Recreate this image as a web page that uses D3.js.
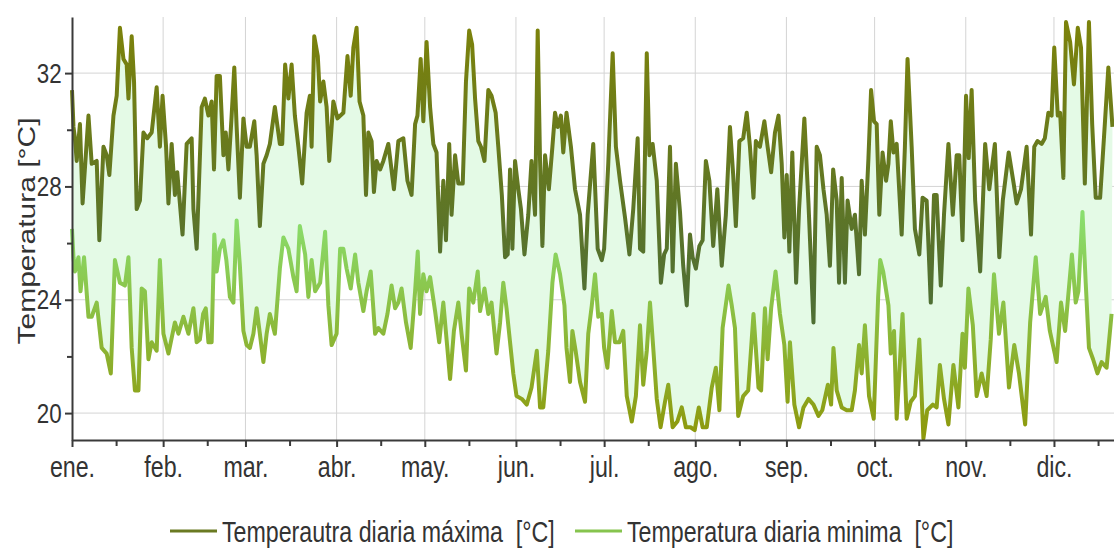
<html>
<head>
    <style>
        body { margin: 0; background: #fff; }
        svg text { font-family: "Liberation Sans", Arial, sans-serif; fill: #333; }
        .legend text { white-space: pre; }
        .grid line { stroke: #d4d4d4; stroke-width: 1; }
        .axis path, .axis line { stroke: #3a3a3a; stroke-width: 2; }
    </style>
    <script src="https://d3js.org/d3.v7.min.js"></script>
</head>
<body>
    <svg width="1114" height="550"></svg>
    <script>

        // [day of year, temperature °C]
        var maxDaily = [[0,31.4],[0.5,30.1],[1.0,29.7],[1.6,28.9],[2.7,30.2],[3.6,27.4],[5.6,30.5],[6.7,28.8],[8.4,28.9],[9.3,26.1],[10.7,29.4],[11.8,29.1],[12.7,28.4],[14.1,30.5],[15.2,31.2],[16.3,33.6],[17.5,32.5],[18.6,32.3],[19.2,31.1],[20.3,33.3],[21.1,31.7],[22.0,27.2],[23.1,27.5],[24.3,29.9],[25.6,29.7],[27.1,29.9],[28.8,31.5],[29.9,29.4],[30.8,31.2],[32.0,29.4],[32.8,27.4],[33.9,29.5],[35.0,27.7],[35.8,28.5],[37.6,26.3],[39.0,29.5],[40.7,29.7],[41.3,27.2],[42.4,25.8],[44.1,30.8],[45.2,31.1],[46.4,30.5],[47.5,31.0],[48.3,28.6],[49.2,31.9],[50.3,31.9],[51.5,29.1],[52.3,29.9],[53.2,28.6],[54.3,30.5],[55.2,32.2],[56.0,30.1],[57.1,27.6],[58.3,30.4],[59.4,29.4],[60.5,29.4],[62.0,30.3],[62.8,29.1],[63.9,26.6],[65.1,28.8],[66.2,29.1],[67.3,29.5],[69.0,30.8],[70.7,29.5],[71.5,29.5],[72.5,32.3],[73.6,31.1],[74.7,32.3],[75.8,30.5],[77.0,29.4],[78.3,28.1],[79.8,30.6],[80.9,31.2],[81.5,29.4],[82.4,33.3],[83.6,32.6],[84.4,31.0],[85.5,31.7],[86.6,30.8],[87.5,28.9],[88.9,31.0],[90.3,30.4],[92.3,30.6],[93.7,32.6],[94.8,31.2],[95.7,32.9],[96.8,33.6],[97.8,31.0],[99.1,30.5],[100.0,27.7],[100.8,29.9],[101.9,29.6],[102.7,27.8],[103.6,28.9],[104.8,28.6],[105.9,28.9],[107.6,29.5],[109.5,27.9],[111.0,29.6],[112.7,29.7],[114.1,28.2],[115.5,27.7],[116.7,30.2],[117.5,30.5],[118.6,32.5],[119.5,30.3],[120.6,33.1],[121.8,30.8],[122.9,29.5],[124.0,29.2],[125.2,25.7],[126.3,28.2],[127.2,26.1],[128.3,29.5],[129.1,27.0],[130.3,29.1],[131.4,28.1],[132.9,28.1],[134.0,31.7],[135.1,33.5],[136.1,33.0],[137.1,31.1],[138.2,29.6],[139.1,29.4],[140.3,28.9],[141.6,31.4],[142.7,31.2],[144.1,30.6],[145.0,29.4],[146.2,27.7],[147.3,25.5],[148.2,25.6],[149.0,28.6],[149.8,25.8],[150.7,28.9],[151.8,27.9],[152.7,27.2],[153.9,25.6],[155.2,27.0],[156.3,28.9],[157.5,27.0],[158.4,33.5],[159.2,28.9],[160.0,25.9],[160.9,29.1],[162.2,27.9],[163.4,29.4],[164.3,30.6],[165.2,30.1],[166.3,30.5],[167.1,29.2],[168.2,30.6],[169.7,29.4],[171.1,27.9],[172.8,27.0],[174.3,24.4],[175.4,27.0],[177.3,29.5],[178.8,25.8],[180.2,25.4],[181.0,25.8],[182.4,28.8],[183.9,32.7],[185.0,29.4],[186.4,28.2],[188.1,26.9],[189.6,25.6],[190.9,27.2],[192.4,29.7],[193.2,25.8],[194.3,25.7],[195.5,32.7],[196.4,29.1],[197.5,29.5],[198.9,28.2],[200.3,24.6],[201.4,25.6],[202.3,25.8],[203.4,29.4],[204.3,25.0],[205.4,28.8],[206.8,27.1],[207.9,25.2],[209.1,23.8],[210.2,26.3],[211.1,25.5],[212.2,25.1],[213.4,25.9],[214.5,26.1],[215.6,28.9],[216.8,28.2],[218.1,25.9],[219.5,27.9],[221.0,25.2],[222.4,27.0],[223.8,30.1],[224.9,28.4],[225.8,26.6],[227.0,29.6],[228.3,29.7],[229.5,30.6],[230.6,29.4],[231.8,27.6],[232.6,29.6],[234.0,29.4],[235.5,30.3],[236.6,29.4],[237.8,28.5],[239.1,29.9],[240.3,30.5],[241.4,28.8],[242.3,26.2],[243.1,28.4],[244.0,25.7],[245.0,29.2],[246.3,24.6],[247.3,27.2],[249.1,30.4],[250.5,27.4],[252.2,23.2],[253.3,29.4],[254.4,29.1],[255.6,27.9],[256.7,27.0],[257.8,25.2],[258.9,28.6],[260.1,27.5],[260.9,24.6],[261.8,28.3],[262.9,24.6],[263.8,27.5],[265.2,26.5],[266.3,27.0],[267.7,24.9],[268.6,28.2],[269.7,26.3],[270.9,29.0],[271.8,31.4],[272.8,30.3],[273.7,30.2],[274.6,27.0],[275.7,29.2],[276.9,28.2],[277.7,28.8],[278.5,30.3],[279.4,29.2],[280.5,29.5],[282.2,26.3],[283.3,29.4],[284.2,32.5],[285.6,29.4],[286.7,26.5],[288.2,25.6],[289.3,27.6],[290.7,27.5],[292.1,23.9],[293.2,27.7],[294.1,27.7],[295.5,24.5],[296.6,27.0],[298.1,29.5],[299.6,27.0],[300.9,29.1],[301.8,29.1],[302.9,26.1],[304.1,31.2],[305.0,29.0],[306.0,31.4],[307.2,27.5],[308.9,25.0],[310.6,29.5],[312.0,27.9],[313.9,29.5],[315.4,25.5],[316.6,27.5],[318.6,29.2],[320.3,28.1],[321.3,27.4],[322.8,27.9],[324.7,29.4],[326.2,26.3],[327.3,29.4],[328.4,29.6],[329.8,29.5],[330.9,29.7],[332.1,30.6],[333.2,30.5],[334.1,32.9],[335.3,30.5],[336.1,30.6],[337.2,28.3],[338.1,33.8],[339.5,33.1],[340.8,31.6],[342.1,33.6],[343.2,32.9],[344.5,28.1],[345.9,33.8],[347.0,30.2],[348.2,27.6],[349.7,27.6],[351.3,30.2],[352.5,32.2],[353.9,30.1]];

        var minDaily = [[0,26.5],[0.5,25.5],[1.0,25.0],[2.2,25.5],[2.9,24.3],[4.1,25.5],[5.6,23.4],[6.7,23.4],[8.4,23.9],[10.1,22.3],[11.8,22.1],[13.2,21.4],[14.6,25.4],[16.3,24.6],[18.0,24.5],[19.2,25.5],[20.3,22.3],[21.4,20.8],[22.6,20.8],[23.7,24.4],[24.8,24.3],[26.0,21.9],[27.1,22.5],[28.8,22.2],[29.9,25.4],[31.1,22.8],[32.8,22.1],[35.0,23.2],[36.2,22.8],[37.9,23.4],[39.6,22.8],[41.3,23.7],[42.4,22.5],[43.5,22.6],[44.6,23.5],[45.5,23.7],[46.4,22.5],[47.5,22.5],[48.4,26.3],[49.2,25.0],[50.3,25.8],[51.5,26.1],[52.5,25.4],[53.7,24.1],[54.9,23.9],[56.0,26.8],[57.1,25.2],[58.3,22.9],[59.4,22.4],[60.5,22.3],[61.7,22.8],[62.8,23.7],[63.9,22.8],[65.1,21.8],[66.2,22.8],[67.3,23.5],[69.0,22.8],[70.7,25.1],[71.9,26.2],[73.6,25.8],[75.3,24.8],[76.4,24.3],[77.5,26.6],[79.3,25.6],[80.4,24.1],[81.5,25.4],[82.7,24.3],[84.4,24.6],[86.1,26.4],[87.2,23.8],[88.3,22.4],[90.0,22.8],[91.2,25.8],[92.3,25.8],[93.4,25.1],[94.8,24.4],[96.3,25.6],[97.4,24.6],[99.1,23.6],[100.2,24.3],[101.6,25.0],[103.1,22.8],[104.2,23.0],[105.9,22.8],[107.3,23.5],[108.7,24.5],[109.9,23.7],[111.0,23.9],[112.1,24.4],[113.6,23.2],[115.2,22.3],[116.7,24.3],[117.6,25.7],[118.4,23.5],[119.5,24.9],[120.6,24.3],[121.8,24.8],[123.5,23.6],[124.9,22.5],[126.3,23.9],[128.6,21.2],[129.9,22.9],[131.4,23.9],[132.5,22.8],[134.0,21.5],[135.1,24.4],[136.5,23.9],[138.0,25.0],[138.8,23.6],[140.3,24.4],[141.6,23.5],[142.7,23.9],[144.4,22.1],[145.6,23.2],[146.7,24.6],[147.8,23.7],[149.0,22.5],[150.1,21.4],[151.2,20.6],[153.0,20.5],[154.7,20.3],[156.3,20.9],[158.1,22.2],[159.2,20.2],[160.3,20.2],[162.0,22.2],[163.4,24.6],[164.5,25.6],[166.0,24.9],[167.5,23.8],[168.2,22.3],[169.4,21.1],[170.2,22.9],[171.3,22.2],[172.8,21.1],[174.5,20.4],[175.6,22.8],[176.8,23.8],[177.9,24.9],[179.0,23.4],[180.2,23.5],[181.0,22.3],[182.1,21.6],[183.6,23.6],[184.7,22.5],[186.2,22.5],[187.5,22.9],[188.7,20.6],[190.4,19.7],[191.8,20.6],[193.2,23.1],[194.3,21.0],[195.5,22.2],[196.6,23.9],[197.7,22.3],[198.9,20.5],[200.2,19.5],[201.7,20.4],[202.8,21.0],[204.3,19.5],[205.9,19.7],[207.4,20.2],[208.8,19.5],[210.4,19.5],[211.8,19.4],[213.2,20.2],[214.5,19.5],[215.9,19.5],[217.6,20.9],[219.0,21.6],[220.2,20.1],[221.3,23.0],[223.3,24.5],[224.4,23.8],[225.5,23.0],[226.6,19.9],[228.3,20.6],[230.0,20.8],[231.8,23.5],[233.5,20.9],[234.4,20.8],[235.7,23.7],[236.6,21.9],[237.8,23.7],[239.3,25.0],[240.8,23.5],[242.3,22.4],[243.4,20.4],[244.2,22.5],[245.7,20.3],[247.3,19.5],[248.8,20.2],[250.5,20.5],[252.2,20.3],[253.9,19.9],[255.2,20.1],[257.1,21.0],[258.2,20.3],[259.0,22.3],[260.1,20.8],[261.8,20.2],[263.5,20.1],[265.2,20.1],[266.3,20.8],[267.7,22.4],[268.6,21.4],[269.7,23.1],[271.1,20.6],[272.7,19.8],[274.2,24.1],[274.9,25.4],[275.9,25.0],[277.7,23.8],[278.5,22.1],[279.6,22.9],[280.5,19.8],[281.6,21.8],[282.5,23.5],[283.9,19.8],[285.3,20.4],[286.7,20.6],[288.2,22.6],[289.6,19.1],[290.9,20.1],[292.8,20.3],[294.1,20.2],[295.2,21.7],[296.6,20.5],[298.1,19.6],[299.8,21.7],[301.5,20.2],[302.9,22.8],[303.7,21.6],[304.9,24.4],[306.4,23.1],[307.7,20.6],[309.4,21.4],[311.1,20.6],[312.5,22.6],[313.6,24.9],[315.3,22.8],[316.8,23.9],[318.7,20.9],[320.5,22.4],[322.1,21.4],[324.2,19.6],[325.9,23.2],[327.8,25.5],[329.3,23.5],[331.2,24.1],[332.6,22.9],[334.9,21.8],[336.4,23.9],[337.8,22.9],[340.1,25.6],[341.4,23.9],[342.3,24.3],[343.7,27.1],[344.8,24.6],[345.9,22.3],[347.3,21.9],[348.8,21.4],[350.2,21.8],[351.9,21.6],[353.6,23.5]];

        var monthLabels = ["ene.", "feb.", "mar.", "abr.", "may.", "jun.", "jul.", "ago.", "sep.", "oct.", "nov.", "dic."];
        var yTicks = [20, 24, 28, 32];
        var yMinorTicks = [22, 26, 30];
        var seriesNames = ["Temperautra diaria máxima  [°C]", "Temperatura diaria minima  [°C]"];

        var svg = d3.select("svg"),
            plotLeft = 72,
            plotTop = 17,
            plotBottom = 440,
            dayPx = 2.94,
            squeeze = "scale(0.8,1)";   // the reference text is narrow

        var year0 = Date.UTC(2023, 0, 1);
        function toDate(day) { return new Date(year0 + day * 864e5); }

        var x = d3.scaleUtc()
                  .domain([toDate(0), toDate(365)])
                  .range([plotLeft, plotLeft + 365 * dayPx]);

        var y = d3.scaleLinear()
                  .domain([19.05, 33.98])
                  .range([plotBottom, plotTop]);

        var monthStarts = d3.range(12).map(function(m) { return new Date(Date.UTC(2023, m, 1)); });
        var monthMids = d3.range(12).map(function(m) { return new Date(Date.UTC(2023, m, 16)); });

        // gradients for the two lines
        var defs = svg.append("defs");
        function grad(id, t1, t2, c1, c2) {
            var g = defs.append("linearGradient")
                        .attr("id", id)
                        .attr("gradientUnits", "userSpaceOnUse")
                        .attr("x1", 0).attr("x2", 0)
                        .attr("y1", y(t1)).attr("y2", y(t2));
            g.append("stop").attr("offset", 0).attr("stop-color", c1);
            g.append("stop").attr("offset", 1).attr("stop-color", c2);
        }
        grad("gMax", 33.5, 24, "#7b820c", "#4f6f34");
        grad("gMin", 27, 19.3, "#8ade6e", "#8d990d");

        // grid
        var grid = svg.append("g").attr("class", "grid");
        grid.selectAll(".h").data(yTicks).enter().append("line")
            .attr("x1", plotLeft).attr("x2", 1114)
            .attr("y1", function(d) { return y(d); })
            .attr("y2", function(d) { return y(d); });
        grid.selectAll(".v").data(monthStarts.slice(1)).enter().append("line")
            .attr("x1", function(d) { return x(d); })
            .attr("x2", function(d) { return x(d); })
            .attr("y1", plotTop).attr("y2", plotBottom);

        var line = d3.line()
                     .x(function(d) { return x(toDate(d[0])); })
                     .y(function(d) { return y(d[1]); });

        // band between max and min
        svg.append("path")
           .attr("d", line(maxDaily.concat(minDaily.slice().reverse())) + "Z")
           .attr("fill", "#e4fae6")
           .attr("stroke", "none");

        svg.append("path")
           .attr("d", line(minDaily))
           .attr("fill", "none")
           .attr("stroke", "url(#gMin)")
           .attr("stroke-width", 4)
           .attr("stroke-linejoin", "round");

        svg.append("path")
           .attr("d", line(maxDaily))
           .attr("fill", "none")
           .attr("stroke", "url(#gMax)")
           .attr("stroke-width", 4)
           .attr("stroke-linejoin", "round");

        // axes
        var xAxis = svg.append("g")
           .attr("class", "axis")
           .attr("transform", "translate(0," + plotBottom + ")")
           .call(d3.axisBottom(x).tickValues(monthStarts)
                   .tickFormat(function(d, i) { return monthLabels[i]; })
                   .tickSize(7).tickSizeOuter(0).tickPadding(9));
        xAxis.selectAll("text")
             .attr("font-size", 29)
             .attr("transform", squeeze)
             .attr("fill", "#333");

        svg.append("g")
           .attr("class", "axis")
           .attr("transform", "translate(0," + plotBottom + ")")
           .call(d3.axisBottom(x).tickValues(monthMids).tickFormat("").tickSize(6).tickSizeOuter(0))
           .select(".domain").remove();

        var yAxis = svg.append("g")
           .attr("class", "axis")
           .attr("transform", "translate(" + plotLeft + ",0)")
           .call(d3.axisLeft(y).tickValues(yTicks).tickSize(7).tickSizeOuter(0).tickPadding(6));
        yAxis.selectAll("text")
             .attr("font-size", 28)
             .attr("transform", squeeze)
             .attr("fill", "#333");

        svg.append("g")
           .attr("class", "axis")
           .attr("transform", "translate(" + plotLeft + ",0)")
           .call(d3.axisLeft(y).tickValues(yMinorTicks).tickFormat("").tickSize(5).tickSizeOuter(0))
           .select(".domain").remove();

        svg.append("text")
           .attr("transform", "translate(35,231) " + squeeze + " rotate(-90)")
           .attr("text-anchor", "middle")
           .attr("font-size", 30)
           .text("Temperatura [°C]");

        // legend
        var legendX = [170, 575],
            legendColors = ["#6a7a22", "#86c44e"];
        var legend = svg.selectAll(".legend").data(seriesNames).enter().append("g")
                        .attr("class", "legend")
                        .attr("transform", function(d, i) { return "translate(" + legendX[i] + ",531)"; });
        legend.append("line")
              .attr("x1", 0).attr("x2", 47)
              .attr("stroke", function(d, i) { return legendColors[i]; })
              .attr("stroke-width", 3);
        legend.append("text")
              .attr("transform", "translate(52,11) " + squeeze)
              .attr("font-size", 29)
              .text(function(d) { return d; });

    </script>
</body>
</html>
